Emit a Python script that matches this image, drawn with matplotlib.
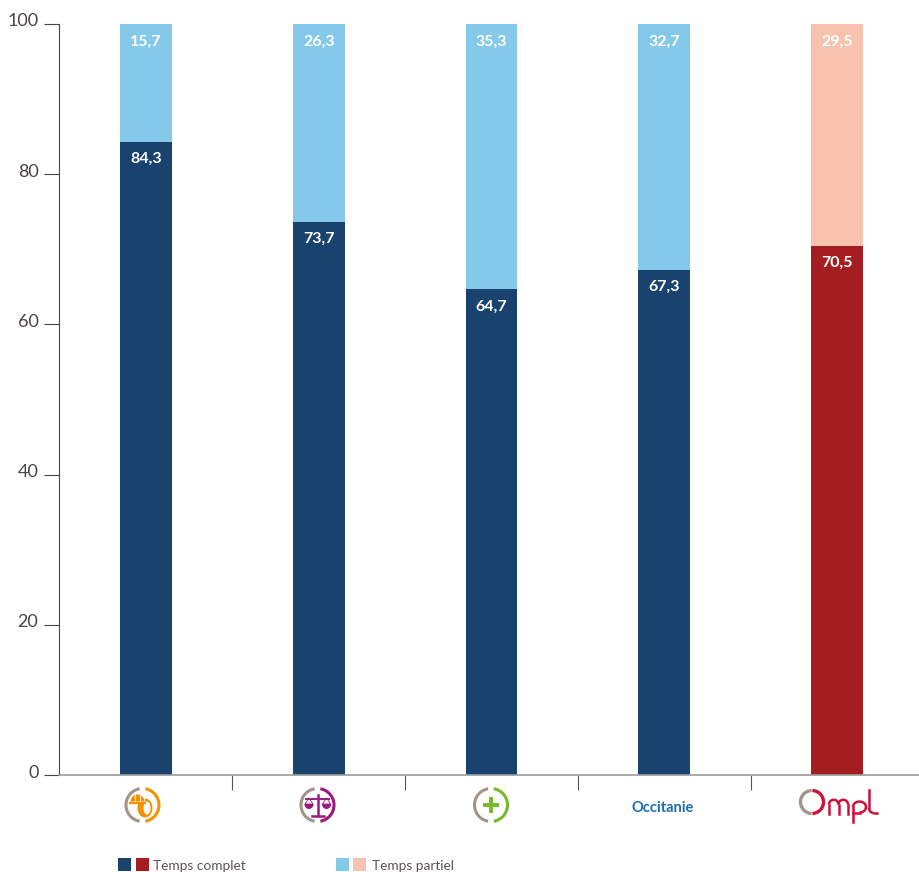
import matplotlib
matplotlib.use('Agg')
import matplotlib.pyplot as plt
from matplotlib.patches import Arc, Ellipse, Rectangle, Polygon
from matplotlib.transforms import ScaledTranslation
import numpy as np

plt.rcParams['font.family'] = ['Lato', 'DejaVu Sans']

groups = ['btp', 'droit', 'sante', 'Occitanie', 'Ompl']
temps_complet = [84.3, 73.7, 64.7, 67.3, 70.5]
temps_partiel = [15.7, 26.3, 35.3, 32.7, 29.5]
yticks = [0, 20, 40, 60, 80, 100]

NAVY, SKY = '#19426f', '#84c9e9'
RED, PINK = '#a41e21', '#f8c3ae'
GREY = '#a0948d'
W, H = 919, 872


def fr(v):
    return '{:.1f}'.format(v).replace('.', ',')


def ring(ax, cx, cy, r, col):
    # the two half circles round each logo
    ax.add_patch(Arc((cx, cy), 2*r, 2*r, theta1=100, theta2=260, color=GREY, lw=2.2))
    ax.add_patch(Arc((cx, cy), 2*r, 2*r, theta1=-80, theta2=80, color=col, lw=2.2))


fig = plt.figure(figsize=(W/100, H/100), dpi=100)
ax = fig.add_axes([59/W, 1-775/H, 860/W, 751/H])

x = np.arange(len(groups))
cols_full = [NAVY]*4 + [RED]
cols_part = [SKY]*4 + [PINK]
ax.bar(x, temps_complet, width=0.30, color=cols_full)
ax.bar(x, temps_partiel, width=0.30, bottom=temps_complet, color=cols_part)

for i in x:
    ax.text(i, temps_complet[i]-2.3, fr(temps_complet[i]), color='white', ha='center',
            va='center', fontsize=11.5, fontweight='bold')
    ax.text(i, 97.6, fr(temps_partiel[i]), color='white', ha='center', va='center',
            fontsize=11.5, fontweight='bold')

ax.set_xlim(-0.5036, 4.475)
ax.set_ylim(0, 100)
ax.set_yticks(yticks)
ax.tick_params(axis='y', length=10.8, width=0.8, color='#4a4543', labelcolor='#4a4543',
               labelsize=13, pad=4)
ax.set_xticks(np.arange(0.5, 4.5), labels=[])
ax.tick_params(axis='x', length=10.8, width=0.8, color='#5a5553')
# y labels sit a little above their ticks
shift = ScaledTranslation(0, 0.025, fig.dpi_scale_trans)
for lab in ax.get_yticklabels():
    lab.set_verticalalignment('center')
    lab.set_transform(lab.get_transform() + shift)
ax.spines['top'].set_visible(False)
ax.spines['right'].set_visible(False)
ax.spines['left'].set_color('#4a4543')
ax.spines['left'].set_linewidth(0.8)
ax.spines['bottom'].set_color('#9b9b9b')
ax.spines['bottom'].set_linewidth(1.2)

# overlay in pixels for logos and the hand placed legend
ov = fig.add_axes([0, 0, 1, 1])
ov.set_xlim(0, W)
ov.set_ylim(H, 0)
ov.axis('off')

# btp logo: tyre and helmet
ORANGE = '#f39200'
ring(ov, 142.5, 805, 16.5, ORANGE)
ov.add_patch(Ellipse((145, 808), 15, 19, color=ORANGE, lw=0))
ov.add_patch(Ellipse((147, 808), 7, 13, color='white', lw=0))
th = np.linspace(np.pi, 2*np.pi, 24)
ov.fill(137.5+7.5*np.cos(th), 802+8*np.sin(th), color=ORANGE, ec='white', lw=0.6)
ov.plot([130, 145], [803, 803], color=ORANGE, lw=1.6)
ov.plot([135, 135], [795, 801], color='white', lw=0.6)
ov.plot([140, 140], [795, 801], color='white', lw=0.6)

# scales logo
PURPLE = '#9b1a80'
ring(ov, 317.5, 805, 16.5, PURPLE)
ov.plot([306, 329], [798.5, 798.5], color=PURPLE, lw=1.4)
ov.plot([317.5, 317.5], [795, 815], color=PURPLE, lw=1.8)
ov.plot([311.5, 323.5], [815.5, 815.5], color=PURPLE, lw=1.8)
for cx in (309, 326.5):
    ov.add_patch(Polygon([[cx-4, 804], [cx, 798], [cx+4, 804]], fill=False, ec=PURPLE, lw=0.6))
    th = np.linspace(0, np.pi, 20)
    ov.fill(cx+4.6*np.cos(th), 804+5*np.sin(th), color=PURPLE, lw=0)

# plus logo
GREEN = '#76b82a'
ring(ov, 491, 805, 16.5, GREEN)
ov.plot([483, 499], [805, 805], color=GREEN, lw=2.8, solid_capstyle='butt')
ov.plot([491, 491], [797, 813], color=GREEN, lw=2.8, solid_capstyle='butt')

ov.text(662.5, 807.5, 'Occitanie', color='#1b6db3', ha='center', va='center',
        fontsize=10.5, fontweight='bold')

# Ompl logo
CRIM = '#d0103a'
ov.add_patch(Arc((812, 802), 23, 23, theta1=92, theta2=268, color=GREY, lw=2.4))
ov.add_patch(Arc((812, 802), 23, 23, theta1=-88, theta2=88, color=CRIM, lw=2.4))
ov.plot([829, 829], [813.5, 804.5], color=CRIM, lw=1.8)
ov.add_patch(Arc((833.75, 804.5), 9.5, 9.5, theta1=180, theta2=360, color=CRIM, lw=1.8))
ov.plot([838.5, 838.5], [804.5, 813.5], color=CRIM, lw=1.8)
ov.add_patch(Arc((843.25, 804.5), 9.5, 9.5, theta1=180, theta2=360, color=CRIM, lw=1.8))
ov.plot([848, 848], [804.5, 813.5], color=CRIM, lw=1.8)
ov.plot([853, 853], [807, 822], color=CRIM, lw=1.8)
ov.add_patch(Arc((859.5, 807), 13, 11, theta1=180, theta2=450, color=CRIM, lw=1.8))
ov.plot([853, 859.5], [812.5, 812.5], color=CRIM, lw=1.8)
ov.plot([869, 869], [790, 808], color=CRIM, lw=1.8)
ov.add_patch(Arc((873.5, 808), 9, 10, theta1=90, theta2=180, color=CRIM, lw=1.8))
ov.plot([873.5, 877], [813, 813], color=CRIM, lw=1.8)

# legend
for lx, c in [(118, NAVY), (136, RED), (336, SKY), (353, PINK)]:
    ov.add_patch(Rectangle((lx, 858), 13, 13, color=c, lw=0))
ov.text(153, 866, 'Temps complet', color='#5a5553', fontsize=9.8, va='center')
ov.text(372, 866, 'Temps partiel', color='#5a5553', fontsize=9.8, va='center')

fig.savefig('out.png', dpi=100)
